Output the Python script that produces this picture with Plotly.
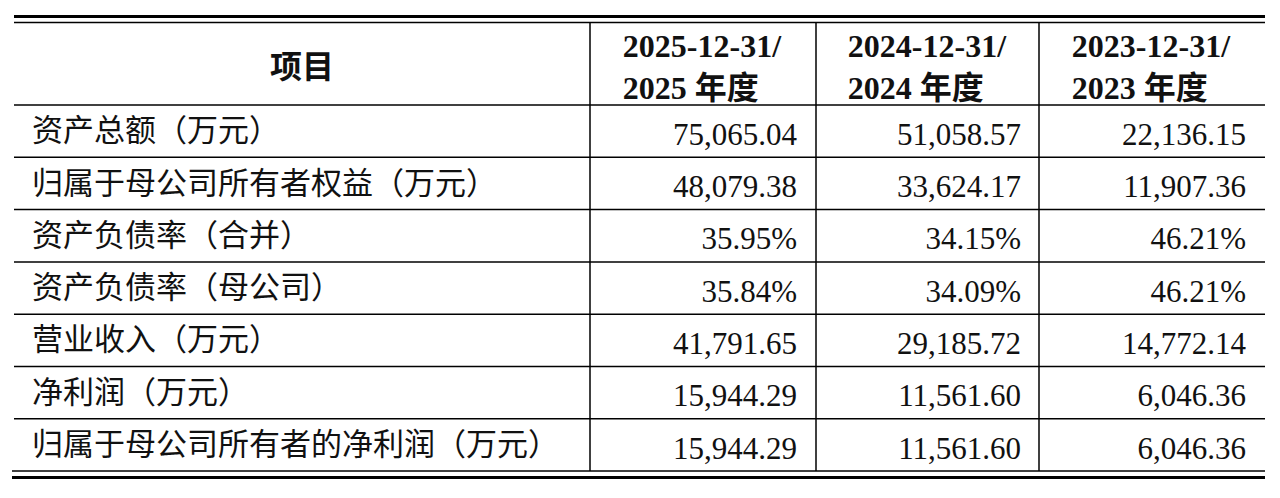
import plotly.graph_objects as go

# header + row labels
headers = ["<b>项目</b>",
           "<b>2025-12-31/<br>2025 年度</b>",
           "<b>2024-12-31/<br>2024 年度</b>",
           "<b>2023-12-31/<br>2023 年度</b>"]

items = ["资产总额（万元）",
         "归属于母公司所有者权益（万元）",
         "资产负债率（合并）",
         "资产负债率（母公司）",
         "营业收入（万元）",
         "净利润（万元）",
         "归属于母公司所有者的净利润（万元）"]

y2025 = ["75,065.04", "48,079.38", "35.95%", "35.84%", "41,791.65", "15,944.29", "15,944.29"]
y2024 = ["51,058.57", "33,624.17", "34.15%", "34.09%", "29,185.72", "11,561.60", "11,561.60"]
y2023 = ["22,136.15", "11,907.36", "46.21%", "46.21%", "14,772.14", "6,046.36", "6,046.36"]

W, H = 1280, 498
left, right = 14, 1265
col_edges = [14, 590, 816, 1039, 1265]
top = 22            # below the top double rule
head_h = 83
row_h = 52.3
n = len(items)
body_top = top + head_h
bottom = body_top + n * row_h

font = "Liberation Serif, Times New Roman, Noto Sans CJK SC"
columns = [items, y2025, y2024, y2023]

fig = go.Figure()
for i, (head, vals) in enumerate(zip(headers, columns)):
    x0, x1 = col_edges[i], col_edges[i + 1]
    if i == 0:
        # label column: text inset from the left rule, header centred on the column
        pad = 10
        d0, d1 = x0 + pad, x1 - pad
        t = 41          # single-line header pushed down to sit mid-row
        hh = body_top + 5 - t
        align = "left"
    else:
        pad = 10
        d1 = x1 - pad
        d0 = x0 + (x1 - d1)
        t = 20
        hh = body_top - 2 - t
        align = "right"
    fig.add_trace(go.Table(
        domain=dict(x=[d0 / W, d1 / W], y=[0, 1 - t / H]),
        header=dict(
            values=[head],
            align="center",
            height=hh,
            font=dict(family=font, size=32, color="#111"),
            fill_color="rgba(0,0,0,0)",
            line=dict(width=0, color="rgba(0,0,0,0)"),
        ),
        cells=dict(
            values=[vals],
            align=align,
            height=row_h,
            font=dict(family=font, size=31, color="#111"),
            fill_color="rgba(0,0,0,0)",
            line=dict(width=0, color="rgba(0,0,0,0)"),
        ),
    ))

shapes = []
line = dict(color="black", width=1.5)
thick = dict(color="black", width=3)
# double rules top and bottom
shapes.append(dict(type="line", x0=left, x1=right, y0=16.5, y1=16.5, line=thick))
shapes.append(dict(type="line", x0=left, x1=right, y0=22.5, y1=22.5, line=line))
shapes.append(dict(type="line", x0=left - 2, x1=right, y0=bottom, y1=bottom, line=line))
shapes.append(dict(type="line", x0=left - 2, x1=right, y0=bottom + 6.5, y1=bottom + 6.5, line=thick))
# row rules
for k in range(n):
    y = body_top + k * row_h
    shapes.append(dict(type="line", x0=left, x1=right, y0=y, y1=y, line=line))
# column rules
for x in col_edges[1:-1]:
    shapes.append(dict(type="line", x0=x, x1=x, y0=top, y1=bottom, line=line))

for s in shapes:
    s.update(xref="x", yref="y", layer="above")

fig.update_layout(
    width=W, height=H,
    margin=dict(l=0, r=0, t=0, b=0),
    paper_bgcolor="white", plot_bgcolor="rgba(0,0,0,0)",
    shapes=shapes,
    xaxis=dict(range=[0, W], visible=False, fixedrange=True),
    yaxis=dict(range=[H, 0], visible=False, fixedrange=True),
    showlegend=False,
)

fig.write_html("out.html", config={"displayModeBar": False},
               post_script="document.body.style.margin='0';")
